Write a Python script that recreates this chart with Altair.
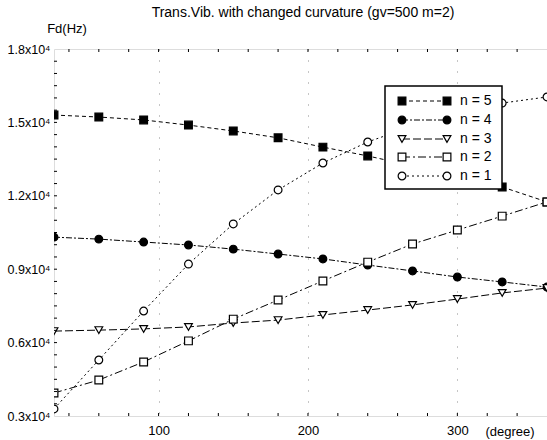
import altair as alt
import pandas as pd

# ---- data (frequency in units of 1e4 Hz) ----
angles = [30, 60, 90, 120, 150, 180, 210, 240, 270, 300, 330, 360]
n5 = [1.530, 1.522, 1.510, 1.489, 1.465, 1.437, 1.399, 1.363, 1.322, 1.281, 1.236, 1.175]
n4 = [1.031, 1.023, 1.011, 0.999, 0.982, 0.962, 0.942, 0.917, 0.893, 0.868, 0.848, 0.827]
n3 = [0.647, 0.651, 0.656, 0.664, 0.680, 0.692, 0.713, 0.733, 0.754, 0.778, 0.803, 0.823]
n2 = [0.394, 0.447, 0.521, 0.607, 0.696, 0.774, 0.852, 0.929, 1.003, 1.060, 1.117, 1.175]
n1 = [0.329, 0.529, 0.729, 0.921, 1.085, 1.224, 1.334, 1.420, 1.485, 1.538, 1.579, 1.604]
series_names = ["n = 5", "n = 4", "n = 3", "n = 2", "n = 1"]
series_vals = [n5, n4, n3, n2, n1]

y_ticks = [0.3, 0.6, 0.9, 1.2, 1.5, 1.8]
x_ticks = [100, 200, 300]
x_minor = list(range(40, 360, 20))
y_minor = [round(0.3 + 0.05 * i, 2) for i in range(1, 30)]

rows = []
for name, vals in zip(series_names, series_vals):
    for a, v in zip(angles, vals):
        rows.append({"angle": a, "fd": v, "n": name})
df = pd.DataFrame(rows)

W, H = 493, 367
FONT = "Liberation Sans"

dashes = [[4, 3], [6, 2, 2, 2], [8, 3], [8, 3, 2, 3], [2, 3]]
shapes = ["square", "circle", "triangle-down", "square", "circle"]
fills = ["black", "black", "white", "white", "white"]

xs = alt.Scale(domain=[30, 360], nice=False, zero=False)
ys = alt.Scale(domain=[0.3, 1.8], nice=False, zero=False)

x_axis = alt.Axis(values=x_ticks, title=None, grid=True, gridDash=[1, 10],
                  gridColor="black", gridOpacity=0.45, ticks=False, domain=False,
                  labelFont=FONT, labelFontSize=13, labelColor="black", labelPadding=8)
y_axis = alt.Axis(values=y_ticks, title=None, grid=False, ticks=False, domain=False,
                  labelExpr="format(datum.value, '.1f') + 'x10⁴'",
                  labelFont=FONT, labelFontSize=12.5, labelColor="black", labelPadding=4)

lines = alt.Chart(df).mark_line(color="black", strokeWidth=1, clip=True).encode(
    x=alt.X("angle:Q", scale=xs, axis=x_axis),
    y=alt.Y("fd:Q", scale=ys, axis=y_axis),
    strokeDash=alt.StrokeDash("n:N", scale=alt.Scale(domain=series_names, range=dashes), legend=None),
    detail="n:N",
)

points = alt.Chart(df).mark_point(size=60, strokeWidth=1.2, opacity=1, clip=True, stroke="black").encode(
    x=alt.X("angle:Q", scale=xs, axis=x_axis),
    y=alt.Y("fd:Q", scale=ys, axis=y_axis),
    shape=alt.Shape("n:N", scale=alt.Scale(domain=series_names, range=shapes), legend=None),
    fill=alt.Fill("n:N", scale=alt.Scale(domain=series_names, range=fills), legend=None),
)

tick_x_df = pd.DataFrame({"angle": x_minor})
tick_y_df = pd.DataFrame({"fd": y_minor})
tick_bottom = alt.Chart(tick_x_df).mark_rule(color="black", strokeWidth=1).encode(
    x=alt.X("angle:Q", scale=xs, axis=x_axis), y=alt.value(H), y2=alt.value(H - 3))
tick_top = alt.Chart(tick_x_df).mark_rule(color="black", strokeWidth=1).encode(
    x=alt.X("angle:Q", scale=xs, axis=x_axis), y=alt.value(0), y2=alt.value(3))
tick_left = alt.Chart(tick_y_df).mark_rule(color="black", strokeWidth=1).encode(
    y=alt.Y("fd:Q", scale=ys, axis=y_axis), x=alt.value(0), x2=alt.value(3))

one = alt.Data(values=[{"a": 1}])
deco = []
# title and axis texts
deco.append(alt.Chart(one).mark_text(font=FONT, fontSize=14, color="black").encode(
    x=alt.value(249), y=alt.value(-36), text=alt.value("Trans.Vib. with changed curvature (gv=500 m=2)")))
deco.append(alt.Chart(one).mark_text(font=FONT, fontSize=13, color="black").encode(
    x=alt.value(13), y=alt.value(-20), text=alt.value("Fd(Hz)")))
deco.append(alt.Chart(one).mark_text(font=FONT, fontSize=13, color="black", baseline="middle").encode(
    x=alt.value(456), y=alt.value(H + 16), text=alt.value("(degree)")))

# legend box
LX0, LX1, LY0, LY1 = 331, 448, 37, 140
deco.append(alt.Chart(one).mark_rect(fill="white", stroke="black", strokeWidth=1.5).encode(
    x=alt.value(LX0), x2=alt.value(LX1), y=alt.value(LY0), y2=alt.value(LY1)))
row_y = [52, 71, 90, 108, 127]
for name, dash, shp, fl, ry in zip(series_names, dashes, shapes, fills, row_y):
    deco.append(alt.Chart(one).mark_rule(color="black", strokeWidth=1, strokeDash=dash).encode(
        x=alt.value(348), x2=alt.value(393), y=alt.value(ry)))
    for px in (348, 393):
        deco.append(alt.Chart(one).mark_point(shape=shp, size=60, fill=fl, stroke="black",
                                              strokeWidth=1.2, opacity=1).encode(
            x=alt.value(px), y=alt.value(ry)))
    deco.append(alt.Chart(one).mark_text(font=FONT, fontSize=14, align="left", color="black",
                                         baseline="middle").encode(
        x=alt.value(406), y=alt.value(ry), text=alt.value(name)))

chart = alt.layer(lines, points, tick_bottom, tick_top, tick_left, *deco).properties(
    width=W, height=H,
    autosize=alt.AutoSizeParams(type="none"),
    padding={"left": 54, "top": 49, "right": 0, "bottom": 24},
).configure_view(stroke="black", strokeWidth=1.5).configure(background="white")

chart.save("out.html", embed_options={"renderer": "svg", "actions": False})
